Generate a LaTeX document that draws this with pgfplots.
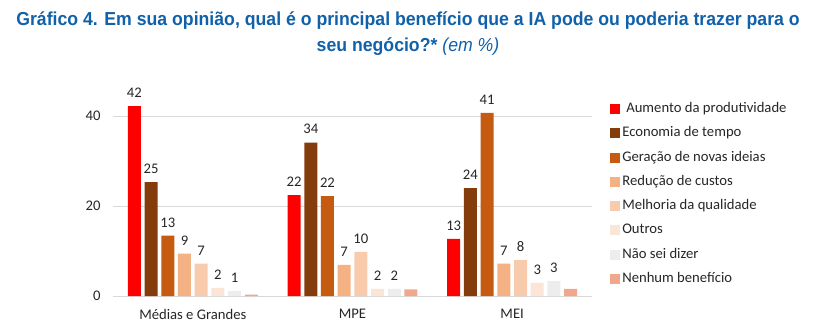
\documentclass[border=0pt]{standalone}
\usepackage{pgfplots}
\pgfplotsset{compat=1.18}
\usepackage{pgfplotstable}
\usepackage{fontspec}
\setmainfont{Carlito}
\newfontfamily\titlefont[FakeStretch=0.94]{Liberation Sans}
\definecolor{titleblue}{HTML}{1161AA}
\definecolor{c1}{HTML}{FF0000}
\definecolor{c2}{HTML}{843C0C}
\definecolor{c3}{HTML}{C55A11}
\definecolor{c4}{HTML}{F4B183}
\definecolor{c5}{HTML}{F8CBAD}
\definecolor{c6}{HTML}{FBE5D6}
\definecolor{c7}{HTML}{EDEDED}
\definecolor{c8}{HTML}{F0A78C}
\definecolor{txt}{HTML}{262626}
\definecolor{gridc}{HTML}{D9D9D9}

\pgfplotstableread{
x a b c d e f g h
0 42.2 25.3 13.4 9.4 7.2 1.8 1.1 0.3
1 22.4 34.1 22.2 6.9 9.8 1.6 1.6 1.5
2 12.7 24.0 40.7 7.2 8.0 2.9 3.3 1.6
}\data

\begin{document}
\begin{tikzpicture}
\useasboundingbox (0pt,0pt) rectangle (612pt,246pt);
\node[anchor=base, text=titleblue, inner sep=0pt] at (306pt,226.5pt)
  {\titlefont\bfseries\fontsize{14.1pt}{16pt}\selectfont Gráfico 4. Em sua opinião, qual é o principal benefício que a IA pode ou poderia trazer para o};
\node[anchor=base, text=titleblue, inner sep=0pt] at (306pt,207.5pt)
  {\titlefont\fontsize{14.1pt}{16pt}\selectfont\textbf{seu negócio?*} \textit{(em \%)}};
\begin{axis}[
  at={(84.75pt,24pt)}, anchor=south west,
  scale only axis, width=359.25pt, height=162pt,
  xmin=-0.5, xmax=2.5, ymin=0, ymax=48,
  axis line style={draw=none},
  major tick length=0pt,
  ymajorgrids, grid style={draw=gridc, line width=0.75pt},
  ytick={0,20,40},
  xtick={0,1,2},
  xticklabels={Médias e Grandes, MPE, MEI},
  /pgf/number format/assume math mode=true,
  tick label style={font=\fontsize{11pt}{13pt}\selectfont, text=txt},
  y tick label style={xshift=-5.8pt},
  x tick label style={yshift=-6.5pt},
  clip=false,
  bar width=9.75pt,
  nodes near coords style={font=\fontsize{11pt}{13pt}\selectfont, text=txt,
     /pgf/number format/fixed, /pgf/number format/precision=0,
     /pgf/number format/assume math mode=true, anchor=south, yshift=2.9pt},
  legend image code/.code={\fill[#1] (0pt,-3.75pt) rectangle (7.5pt,3.75pt);},
  legend style={draw=none, fill=none, inner sep=0pt, at={(1.0376,0.472)}, anchor=west,
     font=\fontsize{11pt}{13pt}\selectfont, text=txt,
     nodes={inner sep=0pt, inner xsep=1.5pt, text height=7.5pt, text depth=2.2pt},
     row sep=8.5pt},
  legend cell align=left,
]
\addplot[ybar, bar shift=0pt, fill=c1, draw=none, nodes near coords] table[x expr=\thisrow{x}-0.3661,y=a]{\data};
\addplot[ybar, bar shift=0pt, fill=c2, draw=none, nodes near coords] table[x expr=\thisrow{x}-0.2615,y=b]{\data};
\addplot[ybar, bar shift=0pt, fill=c3, draw=none, nodes near coords] table[x expr=\thisrow{x}-0.1569,y=c]{\data};
\addplot[ybar, bar shift=0pt, fill=c4, draw=none, nodes near coords] table[x expr=\thisrow{x}-0.0523,y=d]{\data};
\addplot[ybar, bar shift=0pt, fill=c5, draw=none, nodes near coords] table[x expr=\thisrow{x}+0.0523,y=e]{\data};
\addplot[ybar, bar shift=0pt, fill=c6, draw=none, nodes near coords] table[x expr=\thisrow{x}+0.1569,y=f]{\data};
\addplot[ybar, bar shift=0pt, fill=c7, draw=none, nodes near coords] table[x expr=\thisrow{x}+0.2615,y=g]{\data};
\addplot[ybar, bar shift=0pt, fill=c8, draw=none] table[x expr=\thisrow{x}+0.3661,y=h]{\data};
\legend{\hspace{3pt}Aumento da produtividade, Economia de tempo, Geração de novas ideias, Redução de custos, Melhoria da qualidade, Outros, Não sei dizer, Nenhum benefício}
\end{axis}
\end{tikzpicture}
\end{document}
